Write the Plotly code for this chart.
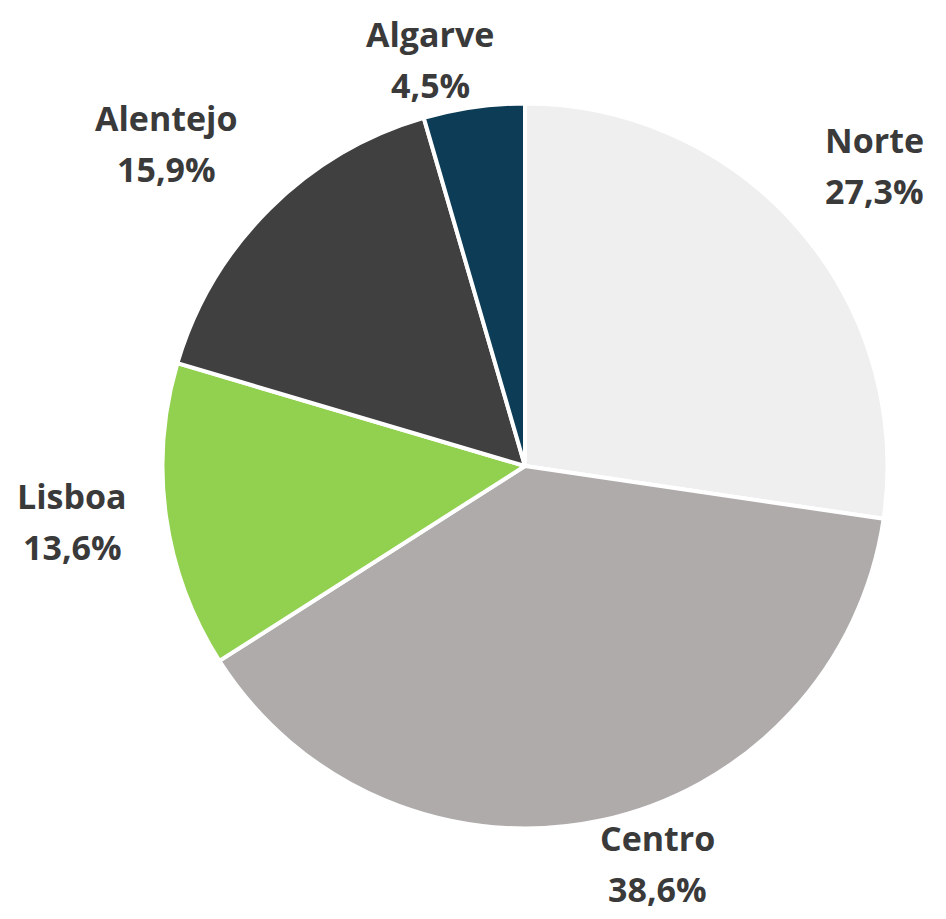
import math
import plotly.graph_objects as go

regions = ["Norte", "Centro", "Lisboa", "Alentejo", "Algarve"]
shares = [27.3, 38.6, 13.6, 15.9, 4.5]
colors = ["#EFEFEF", "#AFABAB", "#92D050", "#404040", "#0D3D56"]

W, H = 946, 919
dom_x = [0.16332, 0.92970]
dom_y = [0.10718, 0.89608]
FONT = dict(family="Open Sans", size=34, color="#3A3A3A")
CHAR_W = 19.5      # approx. glyph width for label width estimate
LINE_GAP = 51      # distance between the two label lines
BLOCK_H = 80       # approx. height of a two-line label block
BOX_PAD = 10       # annotation box top to cap top

fig = go.Figure(go.Pie(
    labels=regions,
    values=shares,
    textinfo="none",
    sort=False,
    direction="clockwise",
    rotation=0,
    marker=dict(colors=colors, line=dict(color="white", width=4)),
    domain=dict(x=dom_x, y=dom_y),
    showlegend=False,
    hoverinfo="label+value",
))

# label placement derived from the slice mid-angles (figure pixel space)
cx = (dom_x[0] + dom_x[1]) / 2 * W
cy = (1 - (dom_y[0] + dom_y[1]) / 2) * H
radius = min((dom_x[1] - dom_x[0]) * W, (dom_y[1] - dom_y[0]) * H) / 2 - 2.5
label_r = radius + 38
top_min, bottom_max = 12, 891
total = sum(shares)
cum = 0.0
annotations = []
for name, s in zip(regions, shares):
    pct = f"{str(s).replace('.', ',')}%"
    mid = (cum + s / 2) / total * 2 * math.pi
    cum += s
    ux, uy = math.sin(mid), -math.cos(mid)
    px = cx + label_r * ux
    py = cy + label_r * uy
    w = max(len(name), len(pct)) * CHAR_W
    xc = px + max(-1.0, min(1.0, ux / 0.25)) * w / 2
    if abs(uy) < 0.3:
        top = py - BLOCK_H / 2
    elif uy < 0:
        top = py - BLOCK_H
    else:
        top = py
    top = max(top_min, min(top, bottom_max - (BLOCK_H - 5)))
    for i, line in enumerate([name, pct]):
        y_px = top - BOX_PAD + i * LINE_GAP
        annotations.append(dict(
            x=xc / W, y=1 - y_px / H, xref="paper", yref="paper",
            text=f"<b>{line}</b>", showarrow=False,
            xanchor="center", yanchor="top",
            font=FONT, borderpad=0,
        ))

fig.update_layout(
    width=W, height=H,
    margin=dict(l=0, r=0, t=0, b=0),
    paper_bgcolor="white",
    plot_bgcolor="white",
    annotations=annotations,
)
fig.write_html("out.html")
